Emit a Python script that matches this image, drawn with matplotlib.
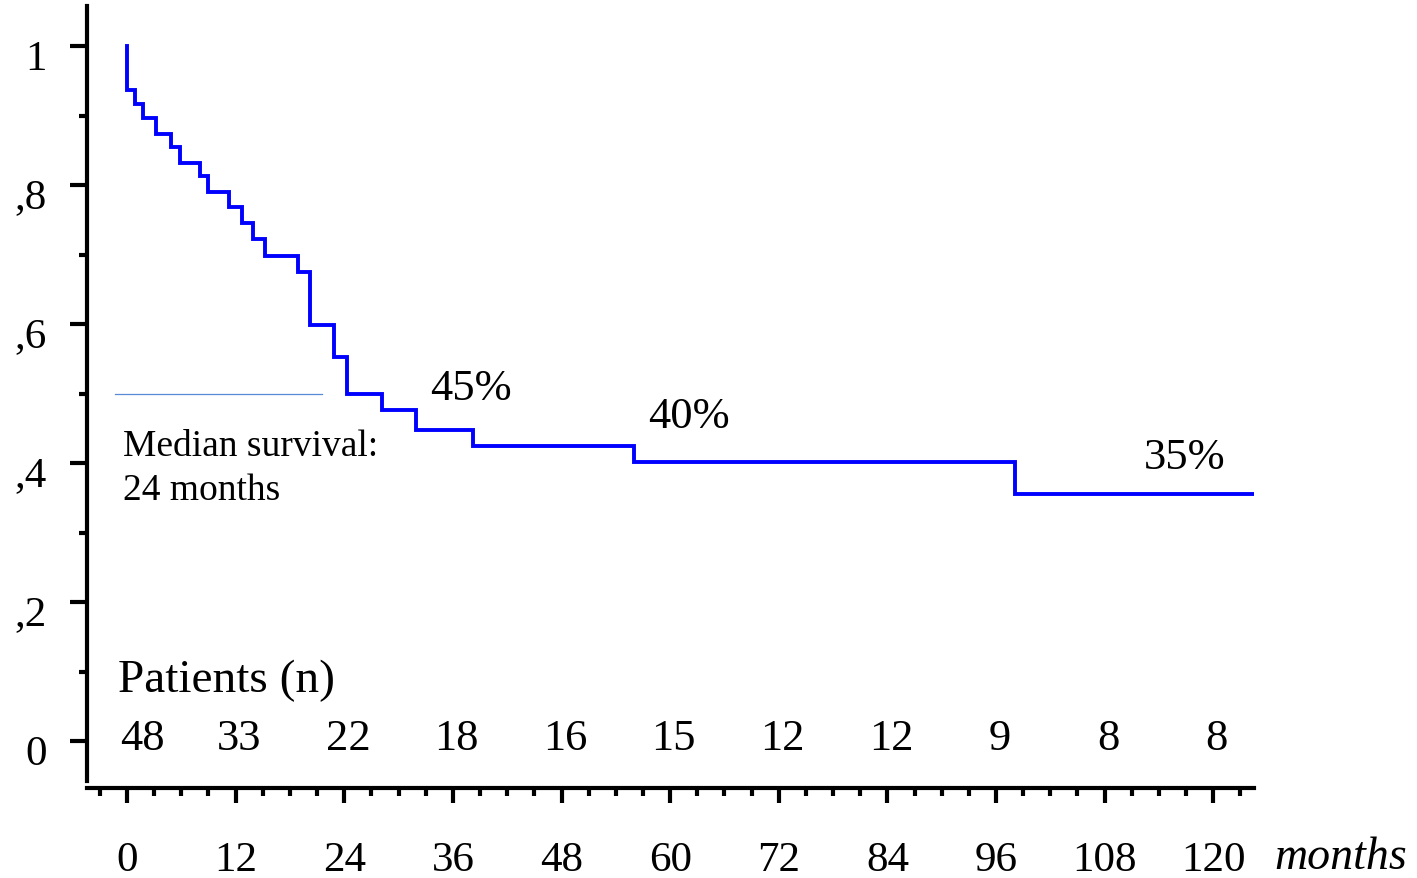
import matplotlib
matplotlib.use("Agg")
import matplotlib.pyplot as plt
from matplotlib.ticker import MultipleLocator
from matplotlib.transforms import ScaledTranslation

# ---- data ----
event_times = [0, 0, 0.9, 1.8, 3.2, 4.9, 5.9, 8.1, 9.0, 11.3, 12.7, 13.9, 15.2,
               18.9, 20.2, 22.9, 24.3, 28.2, 31.9, 38.2, 56.0, 98.1, 124.4]
survival = [1.0, 0.937, 0.917, 0.896, 0.874, 0.855, 0.832, 0.813, 0.790, 0.768,
            0.746, 0.722, 0.698, 0.675, 0.599, 0.553, 0.500, 0.476, 0.448, 0.425,
            0.401, 0.356, 0.356]
x_ticks = [0, 12, 24, 36, 48, 60, 72, 84, 96, 108, 120]
y_ticks = [0, 0.2, 0.4, 0.6, 0.8, 1.0]
y_tick_labels = ["0", ",2", ",4", ",6", ",8", "1"]
at_risk_months = [0, 12, 24, 36, 48, 60, 72, 84, 96, 108, 120]
at_risk = [48, 33, 22, 18, 16, 15, 12, 12, 9, 8, 8]
pct_labels = ["45%", "40%", "35%"]
pct_x = [33.5, 57.6, 112.3]
pct_y = [0.492, 0.452, 0.393]
median_survival = 0.5

plt.rcParams['font.family'] = ['Liberation Serif', 'DejaVu Serif']

fig = plt.figure(figsize=(14.17, 8.79), dpi=100)
ax = fig.add_axes([87/1417, 90/879, (1254-87)/1417, (872-90)/879])
ax.set_xlim(-4.42, 124.5)
ax.set_ylim(-0.0676, 1.0576)

ax.step(event_times, survival, where='post', color='#0000ff', lw=2.8,
        solid_joinstyle='miter')
ax.plot([-1.3, 21.5], [median_survival, median_survival], color='#5a8ad6', lw=0.9)

for s in ['top', 'right']:
    ax.spines[s].set_visible(False)
for s in ['left', 'bottom']:
    ax.spines[s].set_linewidth(3)
ax.spines['left'].set_bounds(-0.0576, 1.0576)

ax.set_xticks(x_ticks)
ax.set_xticklabels([str(v) for v in x_ticks])
ax.xaxis.set_minor_locator(MultipleLocator(3))
ax.set_yticks(y_ticks)
ax.set_yticklabels(y_tick_labels)
ax.yaxis.set_minor_locator(MultipleLocator(0.1))
ax.tick_params(axis='x', which='major', length=11, width=3, pad=27, labelsize=31)
ax.tick_params(axis='x', which='minor', length=6, width=3)
ax.tick_params(axis='y', which='major', length=12, width=3, pad=17, labelsize=31)
ax.tick_params(axis='y', which='minor', length=6, width=3)
shift = ScaledTranslation(0, 5/72, fig.dpi_scale_trans)
for lab in ax.get_yticklabels():
    lab.set_verticalalignment('top')
    lab.set_transform(lab.get_transform() + shift)

for t, s, y in zip(pct_labels, pct_x, pct_y):
    ax.text(s, y, t, fontsize=32, va='baseline', ha='left')

ax.text(-0.44, 0.4115, "Median survival:", fontsize=27, va='baseline', ha='left')
ax.text(-0.44, 0.348, "24 months", fontsize=27, va='baseline', ha='left')
ax.text(-1.0, 0.072, "Patients (n)", fontsize=34, va='baseline', ha='left')

for i, (m, n) in enumerate(zip(at_risk_months, at_risk)):
    if i == 0:
        ax.text(m - 0.8, -0.012, str(n), fontsize=32, va='baseline', ha='left')
    else:
        ax.text(m + 0.4, -0.012, str(n), fontsize=32, va='baseline', ha='center')

ax.text(126.8, -0.182, "months", fontsize=33, style='italic', va='baseline',
        ha='left', clip_on=False)

fig.savefig("out.png", dpi=100)
